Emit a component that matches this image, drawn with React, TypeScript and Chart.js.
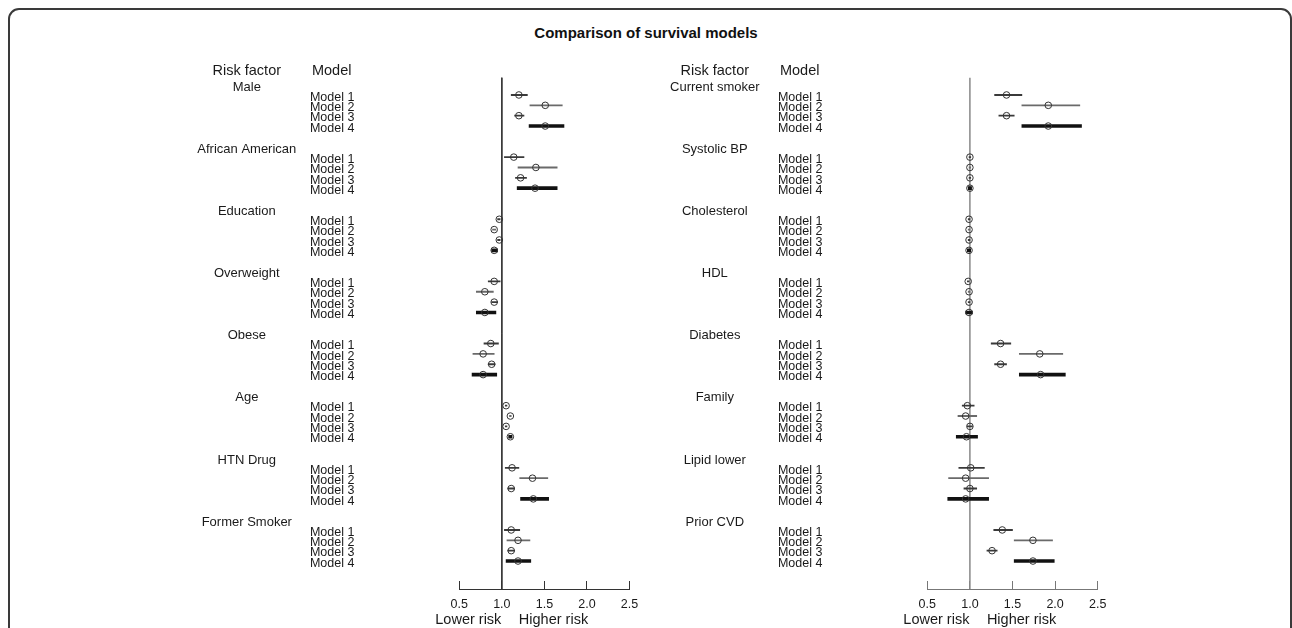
import React, { useEffect, useRef } from "react";
import { Chart, registerables } from "chart.js";

Chart.register(...registerables);

const FONT = '"Liberation Sans", Arial, Helvetica, sans-serif';
const TITLE = "Comparison of survival models";
const headerLabels = ["Risk factor", "Model"];
const modelLabels = ["Model 1", "Model 2", "Model 3", "Model 4"];
const xTickValues = [0.5, 1.0, 1.5, 2.0, 2.5];
const directionLabels = ["Lower risk", "Higher risk"];
const referenceValue = 1;

// Left panel
const leftFactors = ["Male", "African American", "Education", "Overweight", "Obese", "Age", "HTN Drug", "Former Smoker"];
const leftEstimates = [
  [1.20, 1.51, 1.20, 1.51],
  [1.14, 1.40, 1.22, 1.39],
  [0.97, 0.91, 0.97, 0.91],
  [0.91, 0.80, 0.91, 0.80],
  [0.87, 0.78, 0.88, 0.78],
  [1.05, 1.10, 1.05, 1.10],
  [1.12, 1.36, 1.11, 1.37],
  [1.11, 1.19, 1.11, 1.19],
];
const leftLower = [
  [1.11, 1.33, 1.15, 1.32],
  [1.03, 1.19, 1.16, 1.18],
  [0.95, 0.89, 0.95, 0.88],
  [0.84, 0.70, 0.88, 0.70],
  [0.79, 0.66, 0.84, 0.65],
  [1.04, 1.09, 1.04, 1.08],
  [1.04, 1.21, 1.07, 1.22],
  [1.03, 1.06, 1.07, 1.05],
];
const leftUpper = [
  [1.30, 1.71, 1.26, 1.73],
  [1.26, 1.65, 1.29, 1.65],
  [0.98, 0.93, 0.98, 0.95],
  [0.98, 0.90, 0.95, 0.93],
  [0.96, 0.91, 0.92, 0.94],
  [1.06, 1.11, 1.06, 1.12],
  [1.20, 1.54, 1.15, 1.55],
  [1.21, 1.33, 1.15, 1.34],
];

// Right panel
const rightFactors = ["Current smoker", "Systolic BP", "Cholesterol", "HDL", "Diabetes", "Family", "Lipid lower", "Prior CVD"];
const rightEstimates = [
  [1.43, 1.92, 1.43, 1.92],
  [1.00, 1.00, 1.00, 1.00],
  [0.99, 0.99, 0.99, 0.99],
  [0.98, 0.99, 0.99, 0.99],
  [1.36, 1.82, 1.36, 1.83],
  [0.97, 0.95, 1.00, 0.96],
  [1.01, 0.95, 1.00, 0.95],
  [1.38, 1.74, 1.26, 1.74],
];
const rightLower = [
  [1.29, 1.61, 1.34, 1.61],
  [0.99, 0.99, 0.99, 0.98],
  [0.98, 0.98, 0.98, 0.97],
  [0.97, 0.98, 0.98, 0.95],
  [1.25, 1.58, 1.29, 1.58],
  [0.91, 0.86, 0.97, 0.84],
  [0.87, 0.75, 0.93, 0.74],
  [1.28, 1.52, 1.20, 1.52],
];
const rightUpper = [
  [1.61, 2.29, 1.52, 2.31],
  [1.01, 1.01, 1.01, 1.02],
  [1.00, 1.00, 1.00, 1.01],
  [0.99, 1.00, 1.00, 1.03],
  [1.48, 2.09, 1.43, 2.12],
  [1.05, 1.08, 1.03, 1.09],
  [1.17, 1.22, 1.08, 1.22],
  [1.50, 1.97, 1.32, 1.99],
];

const modelStyles = [
  { color: "#3a3a3a", width: 1.2 },
  { color: "#6a6a6a", width: 1.2 },
  { color: "#3a3a3a", width: 1.2 },
  { color: "#111111", width: 3 },
];

const ROWS_PER_GROUP = modelLabels.length + 2;
const ROW_MIN = -2;
const ROW_MAX = 48.7;
const REF_TOP_ROW = -0.67;
const HEADER_ROW = -1.53;

const labelPlugin = {
  id: "forestLabels",
  afterDraw(chart: any, _args: any, opts: any) {
    const { ctx, chartArea, scales } = chart;
    const ys = scales.y;
    const xs = scales.x;
    const a = chartArea.left;
    const factors: string[] = opts.factors || [];
    ctx.save();
    ctx.fillStyle = "#1a1a1a";
    ctx.textBaseline = "alphabetic";

    // headers
    ctx.font = `14.5px ${FONT}`;
    ctx.textAlign = "center";
    const hy = ys.getPixelForValue(HEADER_ROW) + 6.5;
    ctx.fillText(headerLabels[0], a - 212.5, hy);
    ctx.fillText(headerLabels[1], a - 127.6, hy);

    // group labels
    ctx.font = `13px ${FONT}`;
    factors.forEach((f, g) => {
      ctx.fillText(f, a - 212.5, ys.getPixelForValue(g * ROWS_PER_GROUP) + 6.1);
    });

    // model labels
    ctx.font = `12.5px ${FONT}`;
    ctx.textAlign = "left";
    factors.forEach((_f, g) => {
      modelLabels.forEach((m, k) => {
        ctx.fillText(m, a - 149.4, ys.getPixelForValue(g * ROWS_PER_GROUP + k + 1) + 5.7);
      });
    });

    // direction labels
    ctx.font = `14.5px ${FONT}`;
    const rx = xs.getPixelForValue(referenceValue);
    ctx.textAlign = "right";
    ctx.fillText(directionLabels[0], rx - 0.5, 624);
    ctx.textAlign = "left";
    ctx.fillText(directionLabels[1], rx + 17, 624);
    ctx.restore();
  },
};

type PanelProps = {
  factors: string[];
  est: number[][];
  lo: number[][];
  hi: number[][];
  offsetLeft: number;
  width: number;
  padLeft: number;
  padRight: number;
  refColor: string;
  refWidth: number;
  axisColor: string;
};

function ForestPanel(p: PanelProps) {
  const ref = useRef<HTMLCanvasElement>(null);
  useEffect(() => {
    const canvas = ref.current;
    if (!canvas) return;
    const datasets: any[] = [];
    modelLabels.forEach((_m, k) => {
      datasets.push({
        type: "bar",
        indexAxis: "y",
        grouped: false,
        maxBarThickness: modelStyles[k].width,
        barPercentage: 1,
        categoryPercentage: 1,
        backgroundColor: modelStyles[k].color,
        borderWidth: 0,
        order: 2,
        data: p.factors.map((_f, g) => ({ y: g * ROWS_PER_GROUP + k + 1, x: [p.lo[g][k], p.hi[g][k]] })),
      });
    });
    modelLabels.forEach((_m, k) => {
      datasets.push({
        type: "scatter",
        order: 0,
        pointStyle: "circle",
        pointRadius: 3.3,
        pointBorderWidth: 1,
        pointBorderColor: "#333333",
        pointBackgroundColor: "rgba(0,0,0,0)",
        data: p.factors.map((_f, g) => ({ x: p.est[g][k], y: g * ROWS_PER_GROUP + k + 1 })),
      });
    });
    datasets.push({
      type: "line",
      order: 3,
      borderColor: p.refColor,
      borderWidth: p.refWidth,
      pointRadius: 0,
      data: [
        { x: referenceValue, y: REF_TOP_ROW },
        { x: referenceValue, y: ROW_MAX },
      ],
    });

    const chart = new Chart(canvas, {
      type: "scatter",
      data: { datasets },
      plugins: [labelPlugin as any],
      options: {
        animation: false,
        responsive: false,
        events: [],
        layout: { padding: { left: p.padLeft, right: p.padRight, top: 63.9, bottom: 0 } },
        plugins: {
          legend: { display: false },
          tooltip: { enabled: false },
          title: { display: false },
          forestLabels: { factors: p.factors },
        } as any,
        scales: {
          x: {
            type: "linear",
            min: 0.5,
            max: 2.5,
            offset: false,
            beginAtZero: false,
            afterBuildTicks: (s: any) => {
              s.ticks = xTickValues.map((v) => ({ value: v }));
            },
            afterFit: (s: any) => {
              s.height = 39;
            },
            ticks: {
              autoSkip: false,
              maxRotation: 0,
              padding: 16,
              color: "#1a1a1a",
              font: { family: FONT, size: 12.5 },
              callback: (v: any) => Number(v).toFixed(1),
            },
            grid: { offset: false, drawOnChartArea: false, drawTicks: true, tickLength: -8, color: p.axisColor, lineWidth: 1 },
            border: { display: true, color: p.axisColor, width: 1 },
          },
          y: {
            type: "linear",
            display: false,
            offset: false,
            reverse: true,
            min: ROW_MIN,
            max: ROW_MAX,
            grid: { offset: false },
          },
        },
      } as any,
    });
    return () => chart.destroy();
  }, []);
  return (
    <canvas
      ref={ref}
      width={p.width}
      height={628}
      style={{ position: "absolute", left: p.offsetLeft, top: 0, width: p.width, height: 628 }}
    />
  );
}

export default function App() {
  return (
    <div
      style={{
        position: "fixed",
        left: 0,
        top: 0,
        width: 1292,
        height: 628,
        overflow: "hidden",
        background: "#ffffff",
      }}
    >
      <div
        style={{
          position: "absolute",
          left: 8,
          top: 8,
          width: 1284,
          height: 800,
          border: "2px solid #3a3a3a",
          borderRadius: 11,
          boxSizing: "border-box",
        }}
      />
      <div
        style={{
          position: "absolute",
          left: 0,
          top: 24,
          width: 1292,
          textAlign: "center",
          font: `bold 15px ${FONT}`,
          lineHeight: "18px",
          color: "#111111",
        }}
      >
        {TITLE}
      </div>
      <ForestPanel
        factors={leftFactors}
        est={leftEstimates}
        lo={leftLower}
        hi={leftUpper}
        offsetLeft={0}
        width={670}
        padLeft={459.3}
        padRight={40.5}
        refColor="#333333"
        refWidth={1}
        axisColor="#333333"
      />
      <ForestPanel
        factors={rightFactors}
        est={rightEstimates}
        lo={rightLower}
        hi={rightUpper}
        offsetLeft={646}
        width={646}
        padLeft={281.3}
        padRight={194.3}
        refColor="#888888"
        refWidth={1.5}
        axisColor="#777777"
      />
    </div>
  );
}
